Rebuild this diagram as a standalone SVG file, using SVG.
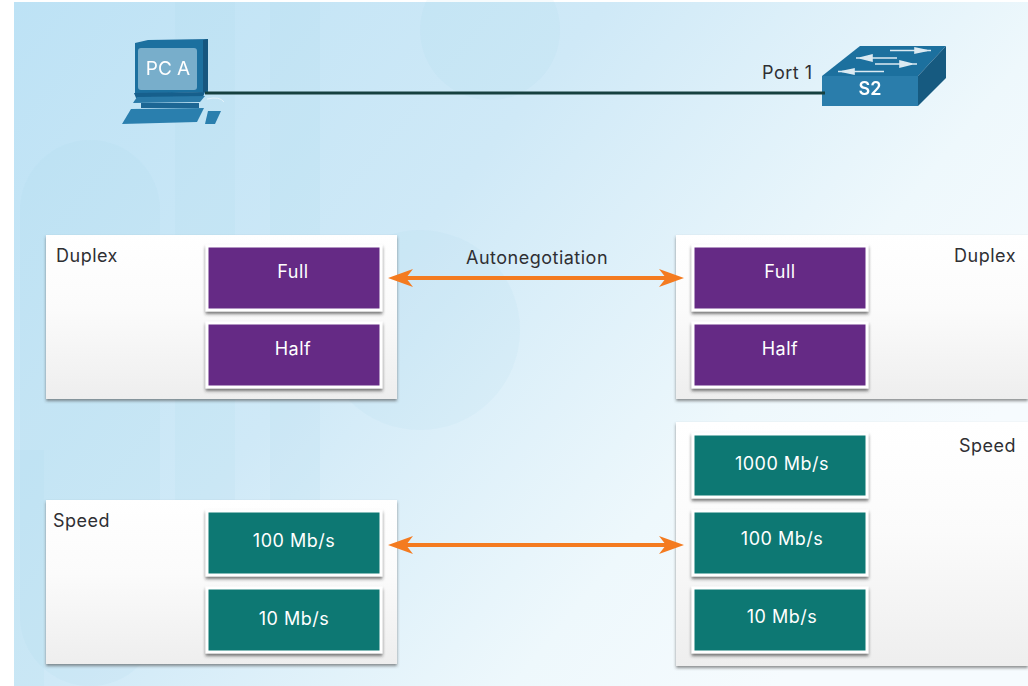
<svg xmlns="http://www.w3.org/2000/svg" width="1028" height="686" viewBox="0 0 1028 686">
<style>
text{font-family:Inter,"Liberation Sans",Arial,sans-serif}
.l{font-size:18px;fill:#2f2f33;letter-spacing:.5px}
.w{font-size:18px;fill:#fff;text-anchor:middle;letter-spacing:.5px}
.p{fill:url(#pg);filter:url(#sh)}
.b{stroke:#fff;stroke-width:3;filter:url(#sh2)}
.pu{fill:#652b85}
.te{fill:#0a7873}
.arr{stroke:#f47b20;stroke-width:4;fill:none}
.ah{fill:#f47b20}
</style>
<defs>
<linearGradient id="bg" x1="0" y1="0" x2="1" y2="0.55"><stop offset="0" stop-color="#bde2f5"/><stop offset=".45" stop-color="#cfe9f7"/><stop offset=".8" stop-color="#eef8fc"/><stop offset="1" stop-color="#f6fbfe"/></linearGradient>
<linearGradient id="pg" x1="0" y1="0" x2="0" y2="1"><stop offset="0" stop-color="#fff"/><stop offset=".45" stop-color="#fbfbfb"/><stop offset="1" stop-color="#eeeeee"/></linearGradient>
<filter id="sh" x="-5%" y="-5%" width="110%" height="115%"><feDropShadow dx="0" dy="2" stdDeviation="1.5" flood-color="#444" flood-opacity=".6"/></filter>
<filter id="sh2" x="-5%" y="-5%" width="110%" height="120%"><feDropShadow dx="0" dy="2.5" stdDeviation="1.5" flood-color="#333" flood-opacity=".65"/></filter>
<filter id="bl"><feGaussianBlur stdDeviation=".4"/></filter>
</defs>
<rect width="1028" height="686" fill="#fff"/>
<rect x="14" y="2" width="1014" height="684" fill="url(#bg)"/>
<g id="backdrop" fill="#9fd0ea" fill-opacity=".09">
<rect x="20" y="140" width="140" height="546" rx="70"/>
<rect x="175" y="2" width="60" height="500"/>
<rect x="270" y="2" width="50" height="500"/>
<circle cx="490" cy="30" r="70"/>
<circle cx="420" cy="330" r="100"/>
<rect x="14" y="450" width="30" height="236"/>
</g>
<g id="pc-a" filter="url(#bl)">
<path d="M135 43 L148 40 L208 39 L208 92 L135 94 Z" fill="#1f6f9f"/>
<path d="M203 40 L208 39 L208 90 L203 93 Z" fill="#15577f"/>
<rect x="138" y="48" width="59" height="42" rx="3" fill="#78aecb"/>
<path d="M134 93 L205 92 L203 97 L136 98 Z" fill="#165f8c"/>
<path d="M137 97 L205 96 L200 102 L133 103 Z" fill="#2a7aa8"/>
<rect x="141" y="103" width="58" height="5" fill="#1a6694"/>
<path d="M131 109 L204 108 L197 122 L122 124 Z" fill="#2b7fae"/>
<path d="M208 111 L221 111 L215 124 L205 124 Z" fill="#2b7fae"/>
<path d="M207 99 Q220 96 224 102" fill="none" stroke="#e4f2fa" stroke-width="1"/>
<text x="168" y="75" font-size="19" fill="#fff" text-anchor="middle">PC A</text>
</g>
<g id="s2" filter="url(#bl)">
<path d="M822 76 L860 46 L946 46 L918 76 Z" fill="#1c6f9e"/>
<rect x="822" y="76" width="96" height="30" fill="#2a7dab"/>
<path d="M918 76 L946 46 L946 78 L918 106 Z" fill="#165a80"/>
<g stroke="#dbeaf2" stroke-width="1.6" fill="#dbeaf2">
<line x1="890" y1="50.500" x2="931" y2="50.500"/><path d="M915 53 L927 50.500 L915 48Z"/>
<line x1="856" y1="58" x2="897" y2="58"/><path d="M872 55 L860 58 L872 61Z"/>
<line x1="875" y1="64" x2="917" y2="64"/><path d="M900 61 L912 64 L900 67Z"/>
<line x1="838" y1="71.500" x2="884" y2="71.500"/><path d="M854 69 L842 71.500 L854 74Z"/>
</g>
<text x="870" y="95" font-size="18" font-weight="600" fill="#fff" text-anchor="middle">S2</text>
</g>
<text id="port-label" class="l" x="762" y="79">Port 1</text>
<text id="autoneg-label" class="l" x="537" y="264" text-anchor="middle">Autonegotiation</text>
<g id="duplex-left">
<rect class="p" x="46" y="235" width="351" height="164"/>
<text class="l" x="56" y="262">Duplex</text>
<rect class="b pu" x="207" y="246" width="174" height="64"/><text class="w" x="293" y="278">Full</text>
<rect class="b pu" x="207" y="323" width="174" height="64"/><text class="w" x="293" y="355">Half</text>
</g>
<g id="duplex-right">
<rect class="p" x="676" y="235" width="352" height="164"/>
<text class="l" x="1016" y="262" text-anchor="end">Duplex</text>
<rect class="b pu" x="693" y="246" width="174" height="64"/><text class="w" x="780" y="278">Full</text>
<rect class="b pu" x="693" y="323" width="174" height="64"/><text class="w" x="780" y="355">Half</text>
</g>
<g id="speed-left">
<rect class="p" x="46" y="500" width="351" height="164"/>
<text class="l" x="53" y="527">Speed</text>
<rect class="b te" x="207" y="511" width="174" height="64"/><text class="w" x="294" y="547">100 Mb/s</text>
<rect class="b te" x="207" y="588" width="174" height="64"/><text class="w" x="294" y="625">10 Mb/s</text>
</g>
<g id="speed-right">
<rect class="p" x="676" y="422" width="352" height="244"/>
<text class="l" x="1016" y="452" text-anchor="end">Speed</text>
<rect class="b te" x="693" y="434" width="174" height="63"/><text class="w" x="782" y="470">1000 Mb/s</text>
<rect class="b te" x="693" y="511" width="174" height="64"/><text class="w" x="782" y="545">100 Mb/s</text>
<rect class="b te" x="693" y="588" width="174" height="64"/><text class="w" x="782" y="623">10 Mb/s</text>
</g>
<g id="connectors">
<line x1="205" y1="93" x2="825" y2="93" stroke="#16403f" stroke-width="3"/>
<line class="arr" x1="400" y1="278" x2="672" y2="278"/>
<path class="ah" d="M388 278 L413 269 L406 278 L413 287 Z"/>
<path class="ah" d="M684 278 L659 269 L666 278 L659 287 Z"/>
<line class="arr" x1="400" y1="545" x2="672" y2="545"/>
<path class="ah" d="M388 545 L413 536 L406 545 L413 554 Z"/>
<path class="ah" d="M684 545 L659 536 L666 545 L659 554 Z"/>
</g>
</svg>
